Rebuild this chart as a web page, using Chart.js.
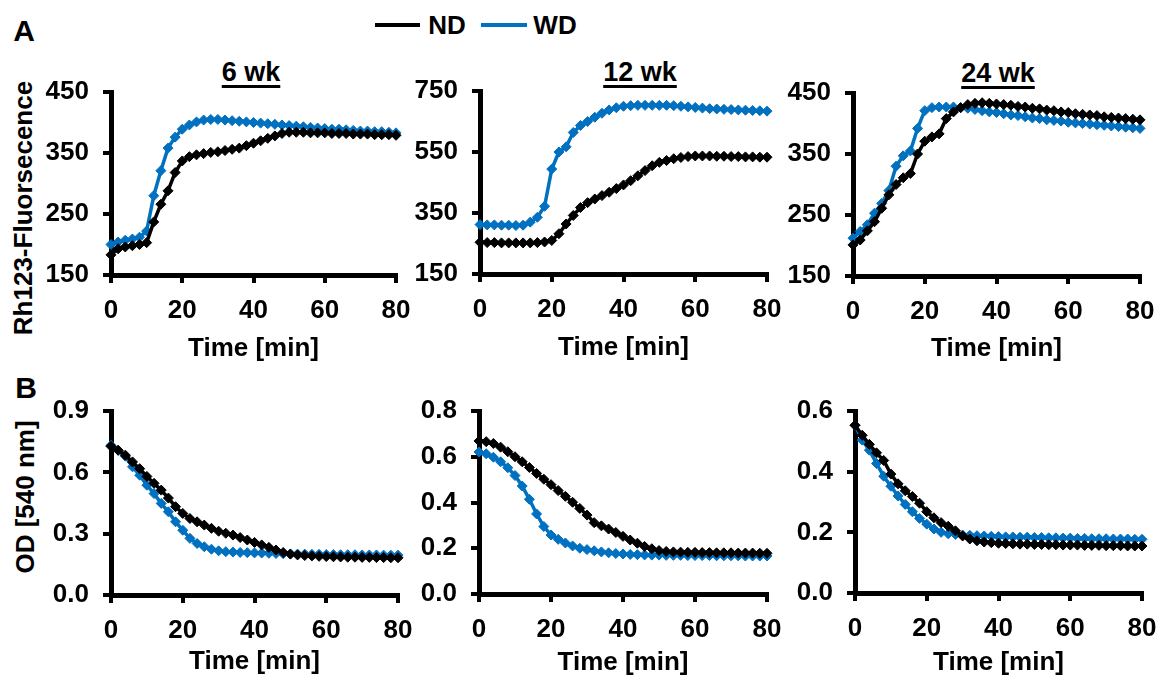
<!DOCTYPE html>
<html><head><meta charset="utf-8">
<script src="https://cdn.jsdelivr.net/npm/chart.js@4.4.1/dist/chart.umd.min.js"></script>
<style>
html,body{margin:0;padding:0;background:#fff;width:1157px;height:677px;overflow:hidden;position:relative;font-family:"Liberation Sans",Arial,sans-serif;font-weight:bold;color:#000}
canvas{position:absolute}
.t{position:absolute;white-space:nowrap;line-height:30px;transform:translate(-50%,-50%);font-size:26px}
.wk{text-decoration:underline;text-decoration-thickness:3px;text-underline-offset:4px;font-size:27px}
.ln{position:absolute;height:4px}
</style></head><body>
<div class="t" style="left:24px;top:31px;font-size:30px">A</div>
<div class="t" style="left:26px;top:388px;font-size:30px">B</div>
<div class="ln" style="left:375px;top:23px;width:45px;background:#000"></div>
<div class="t" style="left:447px;top:25px">ND</div>
<div class="ln" style="left:481px;top:23px;width:46px;background:#0070C0"></div>
<div class="t" style="left:555px;top:25px">WD</div>
<div class="t wk" style="left:251px;top:72px">6 wk</div>
<div class="t wk" style="left:640px;top:72px">12 wk</div>
<div class="t wk" style="left:998px;top:73px">24 wk</div>
<div class="t" style="left:23px;top:208px;transform:translate(-50%,-50%) rotate(-90deg)">Rh123-Fluorsecence</div>
<div class="t" style="left:25px;top:497px;transform:translate(-50%,-50%) rotate(-90deg)">OD [540 nm]</div>
<canvas id="a1"></canvas><canvas id="a2"></canvas><canvas id="a3"></canvas>
<canvas id="b1"></canvas><canvas id="b2"></canvas><canvas id="b3"></canvas>
<script>
const times = [0,2,4,6,8,10,12,14,16,18,20,22,24,26,28,30,32,34,36,38,40,42,44,46,48,50,52,54,56,58,60,62,64,66,68,70,72,74,76,78,80];
const xTicks = [0,20,40,60,80];

// A: Rh123 fluorescence
const fl6ND  = [183,193,196,198,200,203,237,266,288,318,337,344,347,349,351,352,354,356,358,362,366,370,374,378,382,384,384,384,383,383,383,382,382,382,381,381,381,380,380,380,379];
const fl6WD  = [200,204,207,209,212,222,280,321,358,376,389,396,401,404,405,405,404,403,402,401,400,399,398,397,396,395,394,393,392,391,390,389,389,388,387,386,386,385,385,384,383];
const fl12ND = [254,253,253,252,252,252,252,252,253,255,260,282,314,342,368,384,396,407,418,430,442,456,472,489,505,516,522,528,532,535,537,537,537,536,536,535,535,534,534,533,533];
const fl12WD = [312,311,311,310,310,309,310,320,336,372,494,550,567,614,637,650,664,677,688,695,700,702,703,703,703,703,703,702,700,698,696,694,692,691,690,689,688,687,686,685,684];
const fl24ND = [201,209,224,239,261,283,300,311,318,350,371,378,383,408,419,426,431,433,434,433,432,431,430,428,427,425,424,422,421,419,418,416,415,414,413,411,410,409,408,407,406];
const fl24WD = [212,223,234,253,269,290,330,347,355,392,421,426,427,427,427,426,425,423,421,419,418,416,414,413,411,409,408,406,405,404,402,401,400,399,398,397,396,395,394,393,392];

// B: OD 540 nm
const od6ND  = [0.727,0.708,0.684,0.651,0.618,0.580,0.546,0.513,0.474,0.432,0.399,0.374,0.358,0.342,0.326,0.312,0.302,0.293,0.281,0.269,0.257,0.245,0.233,0.220,0.208,0.200,0.196,0.193,0.191,0.189,0.188,0.187,0.186,0.185,0.185,0.184,0.184,0.183,0.183,0.182,0.182];
const od6WD  = [0.732,0.708,0.679,0.627,0.586,0.537,0.496,0.448,0.407,0.358,0.317,0.277,0.252,0.236,0.224,0.216,0.212,0.210,0.208,0.207,0.206,0.205,0.204,0.203,0.202,0.201,0.200,0.200,0.199,0.199,0.198,0.198,0.197,0.197,0.197,0.196,0.196,0.196,0.195,0.195,0.195];
const od12ND = [0.669,0.666,0.658,0.642,0.622,0.600,0.578,0.553,0.527,0.502,0.478,0.452,0.427,0.401,0.374,0.345,0.312,0.298,0.284,0.269,0.252,0.236,0.222,0.208,0.198,0.190,0.186,0.184,0.183,0.182,0.182,0.181,0.181,0.180,0.180,0.180,0.179,0.179,0.179,0.178,0.178];
const od12WD = [0.621,0.613,0.598,0.578,0.552,0.518,0.472,0.414,0.350,0.295,0.258,0.239,0.223,0.210,0.200,0.194,0.189,0.184,0.180,0.177,0.175,0.173,0.172,0.171,0.170,0.170,0.169,0.169,0.169,0.168,0.168,0.168,0.168,0.167,0.167,0.167,0.167,0.166,0.166,0.166,0.166];
const od24ND = [0.553,0.520,0.490,0.462,0.437,0.392,0.360,0.337,0.318,0.296,0.268,0.248,0.232,0.220,0.205,0.188,0.178,0.172,0.168,0.166,0.164,0.163,0.162,0.161,0.161,0.160,0.160,0.159,0.159,0.158,0.158,0.158,0.157,0.157,0.157,0.156,0.156,0.156,0.155,0.155,0.155];
const od24WD = [0.553,0.504,0.471,0.427,0.385,0.352,0.320,0.292,0.268,0.246,0.227,0.211,0.200,0.195,0.193,0.191,0.190,0.189,0.188,0.187,0.186,0.185,0.185,0.184,0.184,0.183,0.183,0.182,0.182,0.181,0.181,0.180,0.180,0.179,0.179,0.179,0.178,0.178,0.178,0.177,0.177];

const FONT = {family:'"Liberation Sans", Arial, sans-serif', size:26, weight:'bold'};
const YW = 80, PT = 36, PR = 30, PB = 4;

function makeChart(id, box, nd, wd, yr, dec) {
  const c = document.getElementById(id);
  const w = YW + (box.R - box.L) + PR;
  const h = PT + (box.B - box.T) + box.xh + PB;
  c.width = w; c.height = h;
  c.style.left = (box.L - YW) + 'px';
  c.style.top = (box.T - PT) + 'px';
  c.style.width = w + 'px'; c.style.height = h + 'px';
  const ds = (lab, vals, col) => ({
    label: lab,
    data: times.map((t, i) => ({x: t, y: vals[i]})),
    borderColor: col, backgroundColor: col, borderWidth: 3.5,
    pointStyle: 'rectRot', pointRadius: 5, pointBorderWidth: 1,
    pointBackgroundColor: col, pointBorderColor: col,
    tension: 0, clip: false
  });
  new Chart(c, {
    type: 'line',
    data: {datasets: [ds('ND', nd, '#000000'), ds('WD', wd, '#0070C0')]},
    options: {
      responsive: false, animation: false, devicePixelRatio: 1,
      layout: {padding: {top: PT, right: PR, bottom: PB, left: 0}},
      plugins: {legend: {display: false}, tooltip: {enabled: false}},
      scales: {
        x: {
          type: 'linear', min: 0, max: 80,
          afterBuildTicks: s => { s.ticks = xTicks.map(v => ({value: v})); },
          ticks: {color: '#000', font: FONT, padding: 12, maxRotation: 0, autoSkip: false},
          grid: {drawOnChartArea: false, color: '#000', lineWidth: 4, tickLength: 8},
          border: {color: '#000', width: 5},
          title: {display: true, text: 'Time [min]', color: '#000', font: FONT, padding: 0},
          afterFit: s => { s.height = box.xh; }
        },
        y: {
          type: 'linear', min: yr[0], max: yr[yr.length - 1],
          afterBuildTicks: s => { s.ticks = yr.map(v => ({value: v})); },
          ticks: {color: '#000', font: FONT, padding: 14, autoSkip: false,
                  callback: v => Number(v).toFixed(dec)},
          grid: {drawOnChartArea: false, color: '#000', lineWidth: 4, tickLength: 8},
          border: {color: '#000', width: 5},
          afterFit: s => { s.width = YW; }
        }
      }
    }
  });
}

const yFl6 = [150,250,350,450], yFl12 = [150,350,550,750], yFl24 = [150,250,350,450];
const yOd6 = [0,0.3,0.6,0.9], yOd12 = [0,0.2,0.4,0.6,0.8], yOd24 = [0,0.2,0.4,0.6];

makeChart('a1', {L:111,R:396,T:92,B:275,xh:89}, fl6ND, fl6WD, yFl6, 0);
makeChart('a2', {L:480,R:767,T:91,B:274,xh:89}, fl12ND, fl12WD, yFl12, 0);
makeChart('a3', {L:853,R:1140,T:93,B:276,xh:88}, fl24ND, fl24WD, yFl24, 0);
makeChart('b1', {L:111,R:398,T:411,B:595,xh:82}, od6ND, od6WD, yOd6, 1);
makeChart('b2', {L:479,R:767,T:411,B:594,xh:84}, od12ND, od12WD, yOd12, 1);
makeChart('b3', {L:855,R:1142,T:411,B:593,xh:85}, od24ND, od24WD, yOd24, 1);
</script>
</body></html>
